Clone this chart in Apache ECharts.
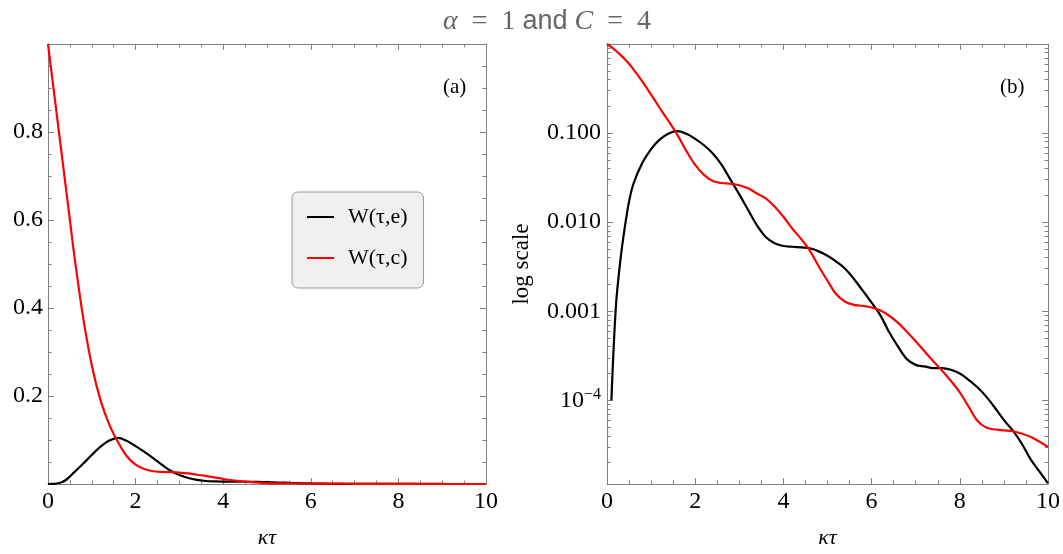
<!DOCTYPE html>
<html>
<head>
<meta charset="utf-8">
<script src="https://cdn.jsdelivr.net/npm/echarts@6/dist/echarts.min.js"></script>
<style>
  html, body { margin: 0; padding: 0; background: #fff; }
  #chart { width: 1063px; height: 554px; }
</style>
</head>
<body>
<div id="chart"></div>
<script>
// kappa*tau sample points
const tau = [0, 0.1, 0.2, 0.3, 0.4, 0.5, 0.6, 0.8, 1.0, 1.2, 1.4, 1.6, 1.8, 2.0, 2.2, 2.4, 2.6, 2.8,
  3.0, 3.2, 3.4, 3.6, 3.8, 4.0, 4.2, 4.4, 4.6, 4.8, 5.0, 5.2, 5.4, 5.6, 5.8, 6.0, 6.2, 6.4, 6.6,
  6.8, 7.0, 7.2, 7.4, 7.6, 7.8, 8.0, 8.2, 8.4, 8.6, 8.8, 9.0, 9.2, 9.4, 9.6, 9.8, 10];
// W(tau,e) - black
const wE = [0, 1.0e-4, 1.1e-3, 3.6e-3, 8.5e-3, 0.017, 0.027, 0.046, 0.066, 0.085, 0.099, 0.105, 0.098,
  0.086, 0.073, 0.059, 0.044, 0.030, 0.0205, 0.0137, 0.0092, 0.0068, 0.0058, 0.0054, 0.0053, 0.0052,
  0.0051, 0.0047, 0.0042, 0.0036, 0.0030, 0.0023, 0.0017, 0.00125, 0.0009, 0.00058, 0.00040,
  0.00029, 0.00025, 0.00024, 0.00023, 0.00023, 0.00022, 0.00020, 0.00017, 0.00014, 0.00011,
  8.2e-5, 6.0e-5, 4.6e-5, 3.3e-5, 2.2e-5, 1.6e-5, 1.17e-5];
// W(tau,c) - red
const wC = [1.0, 0.92, 0.84, 0.76, 0.68, 0.6, 0.52, 0.38, 0.27, 0.19, 0.135, 0.095, 0.063, 0.044,
  0.034, 0.029, 0.0275, 0.027, 0.026, 0.024, 0.021, 0.0185, 0.015, 0.0115, 0.0085, 0.0065, 0.0048,
  0.0032, 0.0022, 0.00155, 0.00128, 0.00118, 0.00115, 0.0011, 0.00102, 0.00089, 0.00074, 0.00059,
  0.00046, 0.000355, 0.000275, 0.000215, 0.000165, 0.000123, 8.5e-5, 5.9e-5, 4.95e-5, 4.7e-5, 4.6e-5,
  4.5e-5, 4.25e-5, 3.9e-5, 3.45e-5, 3.0e-5];

const logTicks = [1e-4, 1e-3, 1e-2, 1e-1, 1];
const logLabelValues = [1e-4, 1e-3, 1e-2, 1e-1];
const logLabels = ['10{sup|−4}', '0.001', '0.010', '0.100'];
const logMin = 1.15e-5;
const logMax = 1;

const serif = 'Liberation Serif';
const frame = '#808080';

const chart = echarts.init(document.getElementById('chart'));

const minorLog = [];
for (let d = -5; d < 0; d++) {
  for (let m = 2; m <= 9; m++) {
    const v = m * Math.pow(10, d);
    if (v > logMin && v < logMax) minorLog.push(v);
  }
}

const pairs = (ys, dropZero) => tau.map((t, i) => [t, dropZero && ys[i] <= 0 ? null : ys[i]]);

function xAxisOf(grid, pos, withLabel) {
  return {
    gridIndex: grid, type: 'value', position: pos, min: 0, max: 10, interval: 2,
    axisLine: { onZero: false, lineStyle: { color: frame, width: 1 } },
    axisTick: { inside: true, length: 6, lineStyle: { color: frame } },
    minorTick: { show: true, splitNumber: 4, length: 3.5, lineStyle: { color: frame } },
    splitLine: { show: false },
    axisLabel: { show: withLabel, margin: 6, color: '#000', fontFamily: serif, fontSize: 24 },
    name: withLabel ? 'κτ' : '', nameLocation: 'middle', nameGap: 43,
    nameTextStyle: { color: '#000', fontFamily: serif, fontStyle: 'italic', fontSize: 22 }
  };
}

function yLinOf(pos, withLabel) {
  return {
    gridIndex: 0, type: 'value', position: pos, min: 0, max: 1, interval: 0.2,
    axisLine: { onZero: false, lineStyle: { color: frame, width: 1 } },
    axisTick: { inside: true, length: 6, lineStyle: { color: frame } },
    minorTick: { show: true, splitNumber: 4, length: 3.5, lineStyle: { color: frame } },
    splitLine: { show: false },
    axisLabel: {
      show: withLabel, margin: 5, color: '#000', fontFamily: serif, fontSize: 24,
      formatter: v => (v > 0.01 && v < 0.99) ? v.toFixed(1) : ''
    }
  };
}

function yLogOf(pos, major, withLabel) {
  const ax = {
    gridIndex: 1, type: 'log', logBase: 10, position: pos, min: logMin, max: logMax,
    axisLine: { show: major, onZero: false, lineStyle: { color: frame, width: 1 } },
    axisTick: {
      inside: true, length: major ? 6 : 3.5, lineStyle: { color: frame },
      customValues: major ? logTicks : minorLog
    },
    splitLine: { show: false },
    axisLabel: { show: false }
  };
  if (withLabel) {
    ax.axisLabel = {
      show: true, margin: 6, color: '#000', fontFamily: serif, fontSize: 24,
      customValues: logLabelValues,
      formatter: v => {
        const i = logLabelValues.findIndex(t => Math.abs(Math.log10(v) - Math.log10(t)) < 1e-6);
        return i < 0 ? '' : logLabels[i];
      },
      rich: { sup: { fontFamily: serif, fontSize: 16, color: '#000', verticalAlign: 'top', padding: [0, 0, 11, 0] } }
    };
    ax.name = 'log scale';
    ax.nameLocation = 'middle';
    ax.nameGap = 74;
    ax.nameTextStyle = { color: '#000', fontFamily: serif, fontSize: 23 };
  }
  return ax;
}

const lineBase = { type: 'line', symbol: 'none', smooth: 0.35, clip: true };

const option = {
  backgroundColor: '#fff',
  animation: false,
  title: {
    text: '{i|α}  =  1 {s|and} {i|C}  =  4',
    left: 542, top: 3, textAlign: 'center',
    textStyle: {
      fontFamily: serif, fontSize: 28, fontWeight: 'normal', color: '#666',
      rich: {
        i: { fontFamily: serif, fontStyle: 'italic', fontSize: 28, color: '#666' },
        s: { fontFamily: 'Liberation Sans', fontSize: 27, color: '#666' }
      }
    }
  },
  legend: {
    orient: 'vertical', left: 292, top: 192,
    data: ['W(τ,e)', 'W(τ,c)'],
    icon: 'rect', itemWidth: 27, itemHeight: 2, itemGap: 19,
    padding: [14, 16, 19, 15],
    backgroundColor: '#f0f0f0', borderColor: '#999', borderWidth: 1, borderRadius: 6,
    textStyle: { fontFamily: serif, fontSize: 22, color: '#000', lineHeight: 22, padding: [0, 0, 0, 9] }
  },
  grid: [
    { left: 48, top: 44, width: 438, height: 446 },
    { left: 607, top: 44, width: 445, height: 445 }
  ],
  xAxis: [
    xAxisOf(0, 'bottom', true),
    xAxisOf(0, 'top', false),
    xAxisOf(1, 'bottom', true),
    xAxisOf(1, 'top', false)
  ],
  yAxis: [
    yLinOf('left', true),
    yLinOf('right', false),
    yLogOf('left', true, true),
    yLogOf('left', false, false),
    yLogOf('right', true, false),
    yLogOf('right', false, false)
  ],
  graphic: [
    { type: 'text', left: 443, top: 77, style: { text: '(a)', font: '21px "Liberation Serif"', fill: '#000' } },
    { type: 'text', left: 1000, top: 77, style: { text: '(b)', font: '21px "Liberation Serif"', fill: '#000' } }
  ],
  series: [
    Object.assign({}, lineBase, { name: 'W(τ,e)', xAxisIndex: 0, yAxisIndex: 0, data: pairs(wE, false),
      lineStyle: { color: '#000', width: 2.2 }, itemStyle: { color: '#000' } }),
    Object.assign({}, lineBase, { name: 'W(τ,c)', xAxisIndex: 0, yAxisIndex: 0, data: pairs(wC, false),
      lineStyle: { color: '#ff0000', width: 2.2 }, itemStyle: { color: '#ff0000' } }),
    Object.assign({}, lineBase, { name: 'W(τ,e)', xAxisIndex: 2, yAxisIndex: 2, data: pairs(wE, true),
      lineStyle: { color: '#000', width: 2.2 }, itemStyle: { color: '#000' } }),
    Object.assign({}, lineBase, { name: 'W(τ,c)', xAxisIndex: 2, yAxisIndex: 2, data: pairs(wC, true),
      lineStyle: { color: '#ff0000', width: 2.2 }, itemStyle: { color: '#ff0000' } })
  ]
};

chart.setOption(option);
</script>
</body>
</html>
